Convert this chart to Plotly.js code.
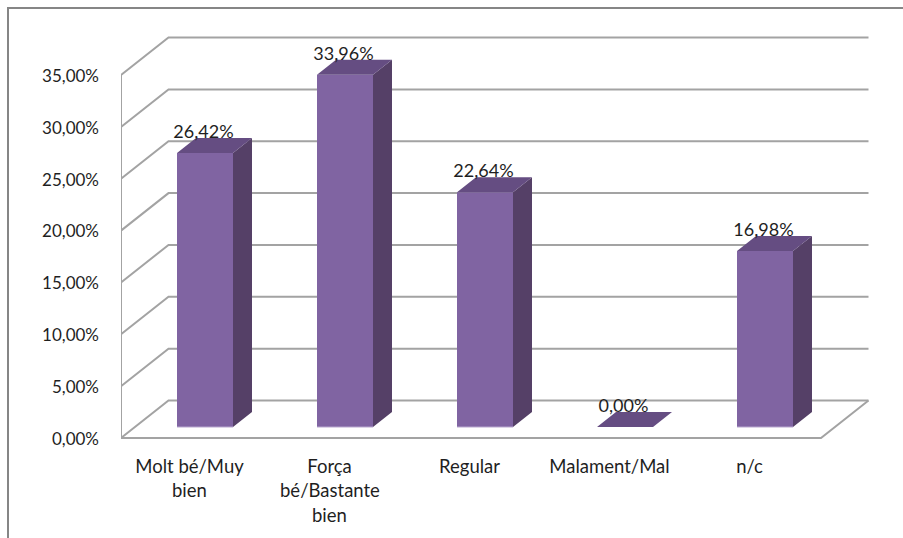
<!DOCTYPE html>
<html>
<head>
<meta charset="utf-8">
<script src="https://cdn.plot.ly/plotly-3.0.0.min.js"></script>
<style>html,body{margin:0;padding:0;background:#fff}</style>
</head>
<body>
<div id="chart" style="width:903px;height:538px"></div>
<script>
// ---- data
const categoryLines = [["Molt bé/Muy", "bien"], ["Força", "bé/Bastante", "bien"], ["Regular"], ["Malament/Mal"], ["n/c"]];
const values = [26.42, 33.96, 22.64, 0, 16.98];
const yTicks = [0, 5, 10, 15, 20, 25, 30, 35];

// ---- look of the fake 3-D box, in axis units
const W = 903, H = 538, ML = 121, MR = 23, MT = 30, MB = 90;
const pxPerCat = 140, pxPerVal = 10.37;
const X0 = -0.5, X1 = X0 + (W - ML - MR) / pxPerCat;
const Y0 = -10 / pxPerVal, Y1 = Y0 + (H - MT - MB) / pxPerVal;
const wallDX = 47.5 / pxPerCat, wallDY = 37.5 / pxPerVal;
const barDX = 19 / pxPerCat, barDY = 15 / pxPerVal;
const barShiftX = 14 / pxPerCat, barLift = 11 / pxPerVal, barW = 56 / pxPerCat;
const labelLift = 19.5 / pxPerVal;
const labelShift = -1.5 / pxPerCat;
const tickLabelDrop = 0.08;
const lastCat = categoryLines.length - 1;
const comma = v => v.toFixed(2).replace('.', ',') + '%';
const FONT = 'Lato, Carlito, sans-serif', TXT = '#1f1f1f', FS_Y = 17, FS_X = 18.5, FS_D = 18;
const LINE = '#a3a3a3';

const cats = categoryLines.map((_, i) => i);
const barX = cats.map(i => i + barShiftX);

const sideX = [], sideY = [], topX = [], topY = [], edgeX = [], edgeY = [];
values.forEach((v, i) => {
  const l = barX[i] - barW / 2, r = barX[i] + barW / 2, b = barLift, t = barLift + v;
  if (v > 0) {
    sideX.push(r, r + barDX, r + barDX, r, r, null);
    sideY.push(b, b + barDY, t + barDY, t, b, null);
    edgeX.push(l, r, null);
    edgeY.push(b, b, null);
  }
  topX.push(l, r, r + barDX, l + barDX, l, null);
  topY.push(t, t, t + barDY, t + barDY, t, null);
});

const traces = [
  {type: 'bar', x: barX, y: values, base: barLift, width: barW,
   marker: {color: '#8064a2', line: {width: 0}}, hoverinfo: 'skip', showlegend: false},
  {type: 'scatter', mode: 'lines', x: sideX, y: sideY, fill: 'toself', fillcolor: '#554067',
   line: {width: 0, color: '#554067'}, hoverinfo: 'skip', showlegend: false, cliponaxis: false},
  {type: 'scatter', mode: 'lines', x: topX, y: topY, fill: 'toself', fillcolor: '#654d82',
   line: {width: 0, color: '#654d82'}, hoverinfo: 'skip', showlegend: false, cliponaxis: false},
  {type: 'scatter', mode: 'lines', x: edgeX, y: edgeY,
   line: {width: 1, color: '#b9a8d0'}, hoverinfo: 'skip', showlegend: false, cliponaxis: false},
  {type: 'scatter', mode: 'text', x: barX.map(x => x + labelShift), y: values.map(v => v + barLift + labelLift),
   text: values.map(comma), textposition: 'middle center',
   textfont: {family: FONT, size: FS_D, color: TXT}, hoverinfo: 'skip', showlegend: false, cliponaxis: false}
];

// gridlines on the side wall and back wall, floor and vertical axis
const lineStyle = {color: LINE, width: 2};
const shapes = yTicks.map(t => ({
  type: 'path', xref: 'x', yref: 'y', layer: 'below', line: lineStyle,
  path: `M ${X0} ${t} L ${X0 + wallDX} ${t + wallDY} L ${lastCat + 0.5 + wallDX} ${t + wallDY}`
}));
shapes.push({
  type: 'path', xref: 'x', yref: 'y', layer: 'below', line: lineStyle,
  path: `M ${X0} ${yTicks[yTicks.length - 1]} L ${X0} 0 L ${lastCat + 0.5} 0 L ${lastCat + 0.5 + wallDX} ${wallDY}`
});
// outer chart frame: only left and top are inside the picture
const px = x => (x - ML) / (W - ML - MR), py = y => 1 - (y - MT) / (H - MT - MB);
shapes.push({
  type: 'path', xref: 'paper', yref: 'paper', layer: 'below', line: {color: '#868686', width: 2},
  path: `M ${px(8)} ${py(H + 2)} L ${px(8)} ${py(8)} L ${px(W + 2)} ${py(8)}`
});

// 2nd and 3rd lines of the wrapped category labels
const LINE_GAP = 25, FIRST_LINE_PX = 27;
const annotations = [];
categoryLines.forEach((lines, i) => lines.slice(1).forEach((txt, k) => annotations.push({
  xref: 'x', yref: 'y', x: i + labelShift, y: 0, text: txt, showarrow: false, xanchor: 'center', yanchor: 'middle',
  yshift: -(FIRST_LINE_PX + LINE_GAP * (k + 1)), font: {family: FONT, size: FS_X, color: TXT}
})));

const layout = {
  width: W, height: H, margin: {l: ML, r: MR, t: MT, b: MB, pad: 0},
  paper_bgcolor: '#fff', plot_bgcolor: 'rgba(0,0,0,0)', showlegend: false, barmode: 'overlay',
  font: {family: FONT, size: FS_Y, color: TXT},
  xaxis: {type: 'linear', range: [X0, X1], tickmode: 'array', tickvals: cats.map(i => i + labelShift),
          ticktext: categoryLines.map(l => l[0]), showgrid: false, zeroline: false, showline: false,
          ticks: '', ticklabelstandoff: 5, tickfont: {family: FONT, size: FS_X, color: TXT}},
  yaxis: {type: 'linear', range: [Y0, Y1], tickmode: 'array', tickvals: yTicks.map(t => t - tickLabelDrop),
          ticktext: yTicks.map(comma), showgrid: false, zeroline: false, showline: false,
          ticks: '', ticklabelstandoff: 21, tickfont: {family: FONT, size: FS_Y, color: TXT}},
  shapes, annotations
};
Plotly.newPlot('chart', traces, layout, {displayModeBar: false, staticPlot: true});
</script>
</body>
</html>
